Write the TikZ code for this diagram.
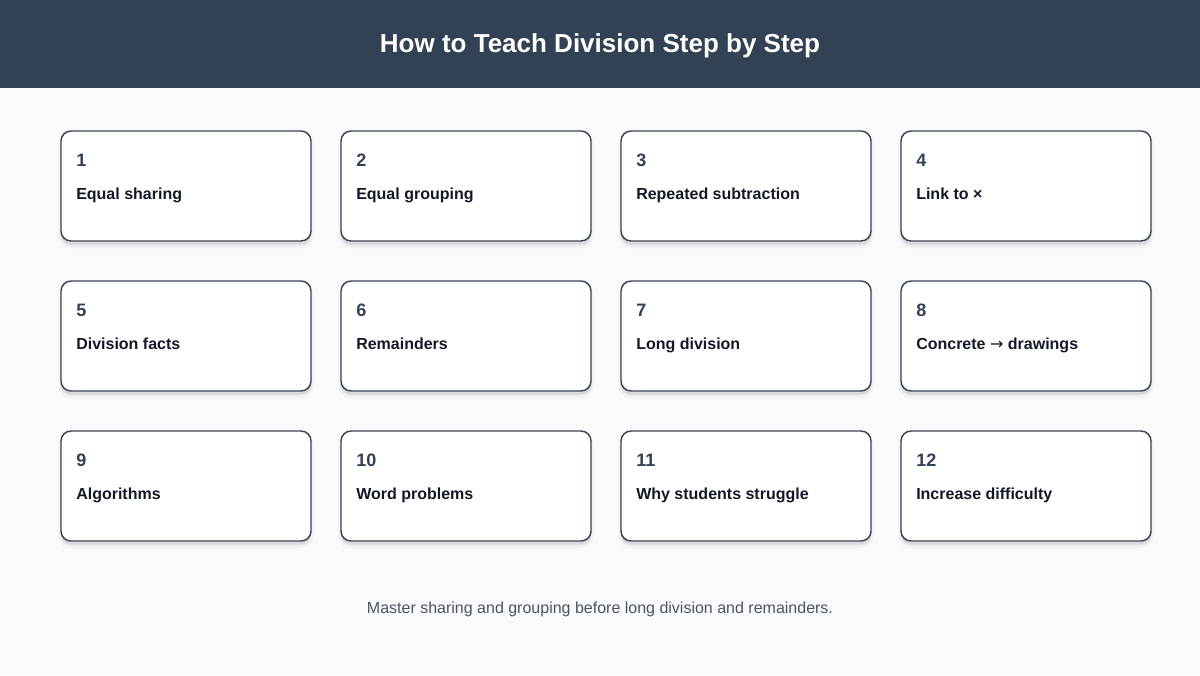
\documentclass[tikz,border=0pt]{standalone}
\usepackage{fontspec}
\setmainfont{Liberation Sans}
\newfontfamily\symfont{DejaVu Sans}
\usetikzlibrary{positioning}
\definecolor{headbg}{HTML}{334155}
\definecolor{pagebg}{HTML}{F8FAFC}
\definecolor{cardline}{HTML}{3B4556}
\definecolor{numcol}{HTML}{334155}
\definecolor{textcol}{HTML}{111827}
\definecolor{notecol}{HTML}{4B5563}

\begin{document}
\begin{tikzpicture}[x=0.75pt,y=-0.75pt,
  card/.style={draw=cardline,line width=1.1pt,fill=white,rounded corners=7.5pt,
    minimum width=187.5pt,minimum height=82.5pt,inner sep=0pt,
    preaction={draw=black,line width=4pt,draw opacity=0.03,fill=black,fill opacity=0.04,
      transform canvas={yshift=-3.5pt}},
    preaction={draw=black,line width=1.5pt,draw opacity=0.04,fill=black,fill opacity=0.05,
      transform canvas={yshift=-2pt}}},
  stepnum/.style={anchor=base west,inner sep=0pt,font=\fontsize{13.5}{16}\selectfont\bfseries,text=numcol},
  steptext/.style={anchor=base west,inner sep=0pt,font=\fontsize{12}{14}\selectfont\bfseries,text=textcol}]
  \fill[pagebg](0,0) rectangle (1200,675);
  \fill[headbg](0,0) rectangle (1200,88);
  \node[anchor=base,inner sep=0pt,text=white,font=\fontsize{19.5}{24}\selectfont\bfseries]
    (title) at (600,52){How to Teach Division Step by Step};
  % twelve step cards, four per row
  \foreach \i/\txt [count=\k from 0] in {1/Equal sharing,2/Equal grouping,
      3/Repeated subtraction,4/Link to ×,5/Division facts,6/Remainders,
      7/Long division,8/Concrete {\symfont\mdseries →} drawings,9/Algorithms,10/Word problems,
      11/Why students struggle,12/Increase difficulty}{
    \pgfmathtruncatemacro\col{mod(\k,4)}
    \pgfmathtruncatemacro\row{div(\k,4)}
    \node[card] (card\i) at ({186+280*\col},{186+150*\row}){};
    \node[stepnum] (num\i) at ({76+280*\col},{166+150*\row}){\i};
    \node[steptext] (lbl\i) at ({76+280*\col},{199+150*\row}){\txt};
  }
  \node[anchor=base,inner sep=0pt,text=notecol,font=\fontsize{12}{14}\selectfont]
    (note) at (600,613){Master sharing and grouping before long division and remainders.};
\end{tikzpicture}
\end{document}
